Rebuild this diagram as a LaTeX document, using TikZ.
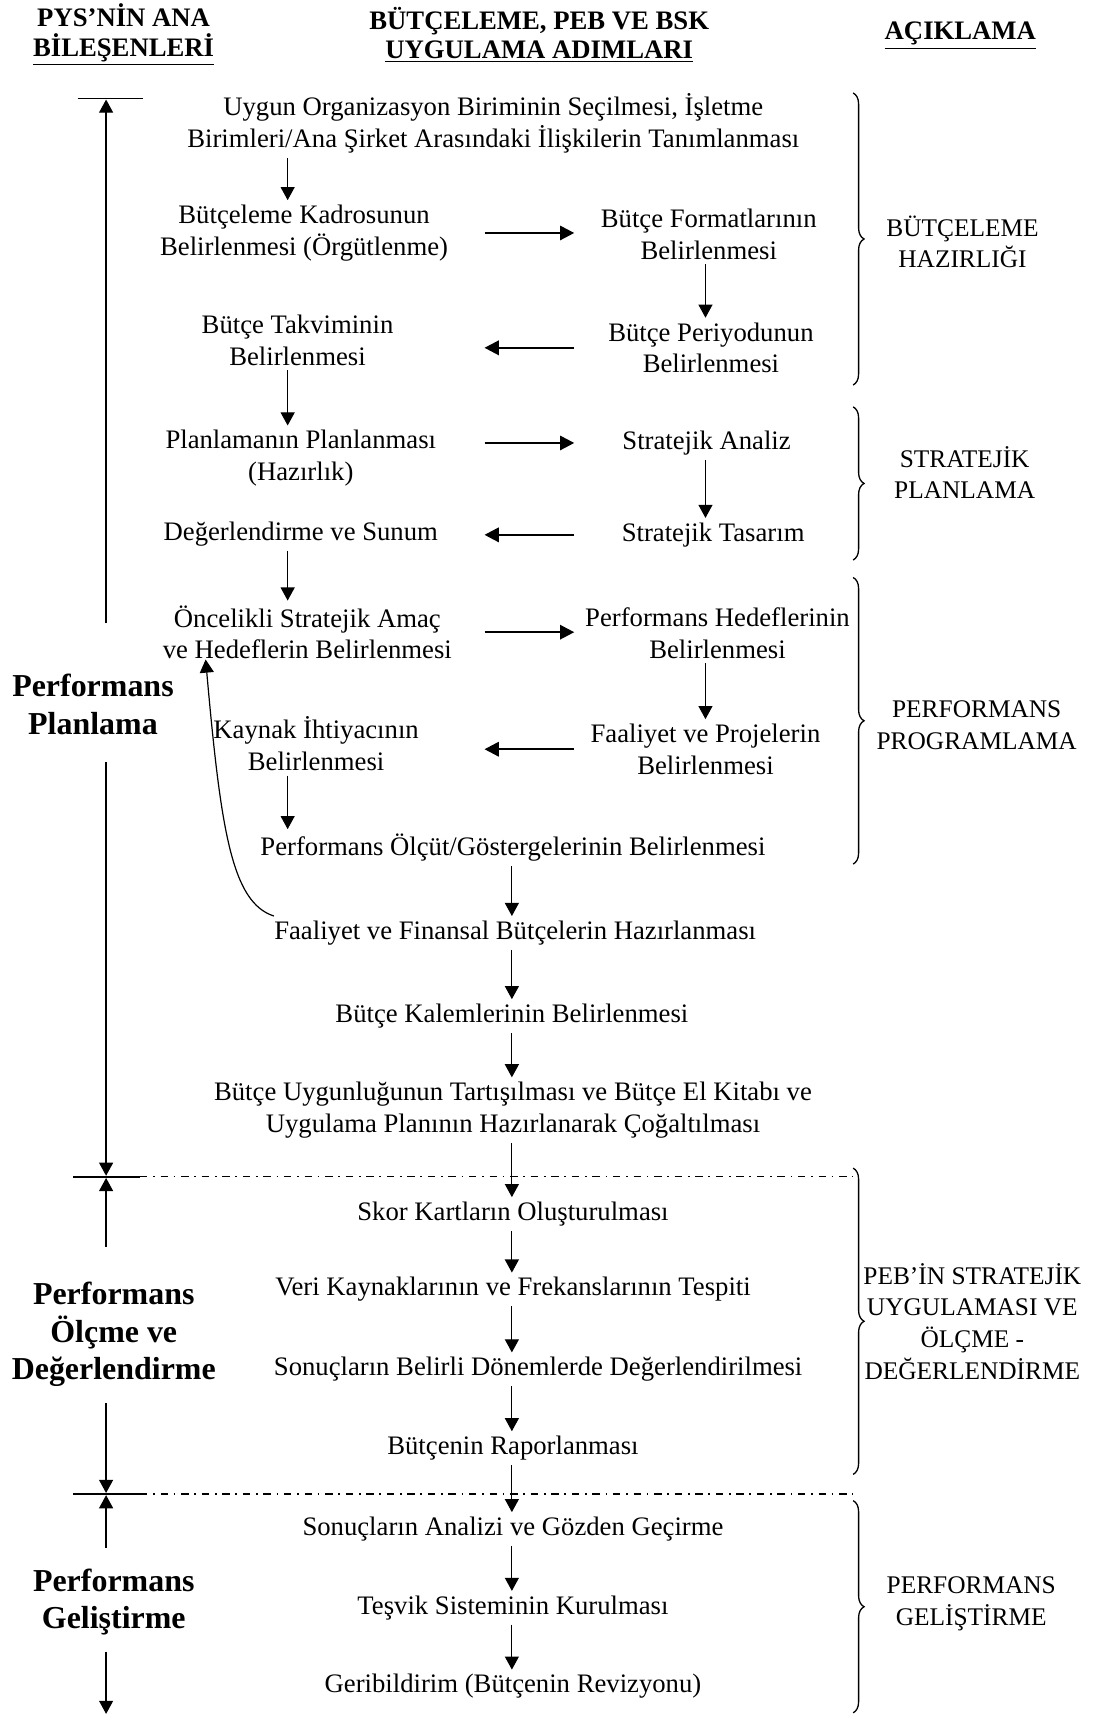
\documentclass[tikz,border=0pt]{standalone}
\usepackage{fontspec}
\setmainfont{Liberation Serif}
\usetikzlibrary{arrows.meta,decorations.pathreplacing}

\begin{document}
\begin{tikzpicture}[x=0.5pt,y=-0.5pt,
  txt/.style={align=center, font=\fontsize{12.2}{14.5}\selectfont, inner xsep=0pt, inner ysep=2pt},
  hdr/.style={align=center, font=\fontsize{12.2}{13.5}\selectfont\bfseries, inner sep=0pt},
  side/.style={align=center, font=\fontsize{14.6}{17}\selectfont\bfseries, inner sep=0pt},
  note/.style={align=center, font=\fontsize{11.6}{14.5}\selectfont, inner sep=0pt},
  varr/.style={-{Triangle[length=6pt,width=6.4pt]}, line width=0.55pt},
  harr/.style={-{Triangle[length=6.5pt,width=6.6pt]}, line width=0.85pt},
  grp/.style={decorate, decoration={brace, amplitude=5pt}, line width=0.6pt},
  sepline/.style={dash pattern=on 3.4pt off 2.6pt on 0.8pt off 2.6pt, line width=0.55pt},
  bar/.style={line width=0.8pt}]

\useasboundingbox (0,0) rectangle (1003,1568);

% column headings
\node[hdr] (h1) at (113,32) {PYS’NİN ANA\\\underline{BİLEŞENLERİ}};
\node[hdr] (h2) at (493,32) {BÜTÇELEME, PEB VE BSK\\\underline{UYGULAMA ADIMLARI}};
\node[hdr] (h3) at (878,33) {\underline{AÇIKLAMA}};

% arrow columns
\coordinate (colL) at (263,0);
\coordinate (colR) at (645,0);
\coordinate (colM) at (468,0);
\coordinate (hL) at (443,0);
\coordinate (hR) at (525,0);

% steps
\node[txt] (n1) at (451,113) {Uygun Organizasyon Biriminin Seçilmesi, İşletme\\Birimleri/Ana Şirket Arasındaki İlişkilerin Tanımlanması};
\node[txt] (n2) at (278,213) {Bütçeleme Kadrosunun\\Belirlenmesi (Örgütlenme)};
\node[txt] (n3) at (648,214) {Bütçe Formatlarının\\Belirlenmesi};
\node[txt] (n4) at (650,318) {Bütçe Periyodunun\\Belirlenmesi};
\node[txt] (n5) at (272,311) {Bütçe Takviminin\\Belirlenmesi};
\node[txt] (n6) at (275,419) {Planlamanın Planlanması\\(Hazırlık)};
\node[txt] (n7) at (646,405) {Stratejik Analiz};
\node[txt] (n8) at (652,489) {Stratejik Tasarım};
\node[txt] (n9) at (275,488) {Değerlendirme ve Sunum};
\node[txt] (n10) at (281,578) {Öncelikli Stratejik Amaç\\ve Hedeflerin Belirlenmesi};
\node[txt] (n11) at (656,579) {Performans Hedeflerinin\\Belirlenmesi};
\node[txt] (n12) at (645,685) {Faaliyet ve Projelerin\\Belirlenmesi};
\node[txt] (n13) at (289,680) {Kaynak İhtiyacının\\Belirlenmesi};
\node[txt] (n14) at (469,775) {Performans Ölçüt/Göstergelerinin Belirlenmesi};
\node[txt] (n15) at (471,853) {Faaliyet ve Finansal Bütçelerin Hazırlanması};
\node[txt] (n16) at (468,929) {Bütçe Kalemlerinin Belirlenmesi};
\node[txt] (n17) at (469,1015) {Bütçe Uygunluğunun Tartışılması ve Bütçe El Kitabı ve\\Uygulama Planının Hazırlanarak Çoğaltılması};
\node[txt] (n18) at (469,1110) {Skor Kartların Oluşturulması};
\node[txt] (n19) at (469,1179) {Veri Kaynaklarının ve Frekanslarının Tespiti};
\node[txt] (n20) at (492,1252) {Sonuçların Belirli Dönemlerde Değerlendirilmesi};
\node[txt] (n21) at (469,1324) {Bütçenin Raporlanması};
\node[txt] (n22) at (469,1398) {Sonuçların Analizi ve Gözden Geçirme};
\node[txt] (n23) at (469,1470) {Teşvik Sisteminin Kurulması};
\node[txt] (n24) at (469,1542) {Geribildirim (Bütçenin Revizyonu)};

% vertical flow
\draw[varr] (n1.south -| colL) -- (n2.north -| colL);
\draw[varr] (n3.south -| colR) -- (n4.north -| colR);
\draw[varr] (n5.south -| colL) -- (n6.north -| colL);
\draw[varr] (n7.south -| colR) -- (n8.north -| colR);
\draw[varr] (n9.south -| colL) -- (n10.north -| colL);
\draw[varr] (n11.south -| colR) -- (n12.north -| colR);
\draw[varr] (n13.south -| colL) -- (n14.north -| colL);
\draw[varr] (n14.south -| colM) -- (n15.north -| colM);
\draw[varr] (n15.south -| colM) -- (n16.north -| colM);
\draw[varr] (n16.south -| colM) -- (n17.north -| colM);
\draw[varr] (n17.south -| colM) -- (n18.north -| colM);
\draw[varr] (n18.south -| colM) -- (n19.north -| colM);
\draw[varr] (n19.south -| colM) -- (n20.north -| colM);
\draw[varr] (n20.south -| colM) -- (n21.north -| colM);
\draw[varr] (n21.south -| colM) -- (n22.north -| colM);
\draw[varr] (n22.south -| colM) -- (n23.north -| colM);
\draw[varr] (n23.south -| colM) -- (n24.north -| colM);

% horizontal flow
\draw[harr] (hL |- n2) -- (hR |- n2);
\draw[harr] (hR |- n4) -- (hL |- n4);
\draw[harr] (hL |- n7) -- (hR |- n7);
\draw[harr] (hR |- n8) -- (hL |- n8);
\draw[harr] (hL |- n10) -- (hR |- n10);
\draw[harr] (hR |- n12) -- (hL |- n12);

% feedback loop
\coordinate (fb) at (188,603);
\draw[varr] (n15.north west) .. controls (212,825) and (202,760) .. (fb);

% component bars and separators
\coordinate (b1l) at (71,90);  \coordinate (b1r) at (131,90);
\coordinate (b2l) at (67,1076); \coordinate (b2r) at (128,1076);
\coordinate (b3l) at (67,1366); \coordinate (b3r) at (128,1366);
\coordinate (s2) at (780,1076);
\coordinate (s3) at (780,1366);
\draw[line width=0.6pt] (b1l) -- (b1r);
\draw[bar] (b2l) -- (b2r);
\draw[bar] (b3l) -- (b3r);
\draw[sepline] (b2r) -- (s2);
\draw[sepline] (b3r) -- (s3);

% component labels with span arrows
\node[side] (c1) at (85,644) {Performans\\Planlama};
\node[side] (c2) at (104,1220) {Performans\\Ölçme ve\\Değerlendirme};
\node[side] (c3) at (104,1465) {Performans\\Geliştirme};

\coordinate (p1a) at (97,570);  \coordinate (p1t) at (97,91);
\coordinate (p1b) at (97,697);  \coordinate (p1e) at (97,1075);
\coordinate (p2a) at (97,1140); \coordinate (p2t) at (97,1077);
\coordinate (p2b) at (97,1283); \coordinate (p2e) at (97,1365);
\coordinate (p3a) at (97,1415); \coordinate (p3t) at (97,1367);
\coordinate (p3b) at (97,1510); \coordinate (p3e) at (97,1567);
\draw[varr] (p1a) -- (p1t);
\draw[varr] (p1b) -- (p1e);
\draw[varr] (p2a) -- (p2t);
\draw[varr] (p2b) -- (p2e);
\draw[varr] (p3a) -- (p3t);
\draw[varr] (p3b) -- (p3e);

% stage braces
\draw[grp] (780,85) -- (780,352);
\draw[grp] (780,372) -- (780,512);
\draw[grp] (780,528) -- (780,790);
\draw[grp] (780,1068) -- (780,1348);
\draw[grp] (780,1372) -- (780,1566);

\node[note] (g1) at (880,221) {BÜTÇELEME\\HAZIRLIĞI};
\node[note] (g2) at (882,432) {STRATEJİK\\PLANLAMA};
\node[note] (g3) at (893,663) {PERFORMANS\\PROGRAMLAMA};
\node[note] (g4) at (889,1208) {PEB’İN STRATEJİK\\UYGULAMASI VE\\ÖLÇME -\\DEĞERLENDİRME};
\node[note] (g5) at (888,1466) {PERFORMANS\\GELİŞTİRME};

\end{tikzpicture}
\end{document}
